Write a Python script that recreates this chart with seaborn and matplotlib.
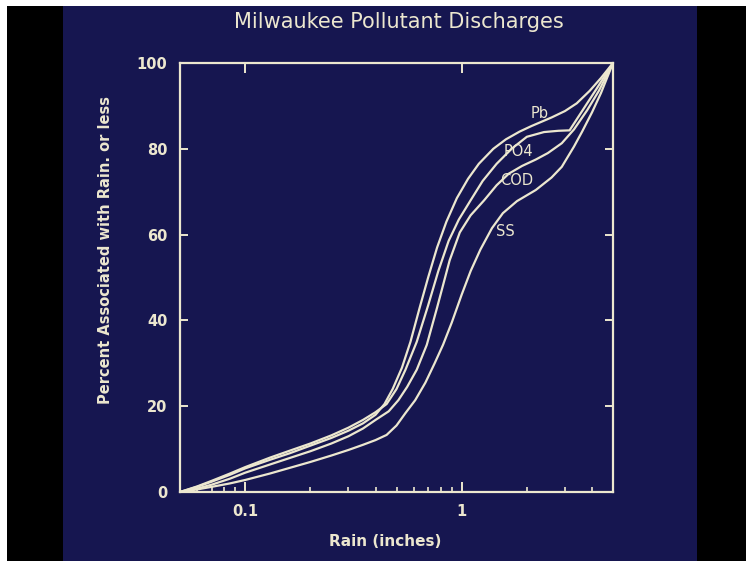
import matplotlib
matplotlib.use("Agg")
import matplotlib.pyplot as plt
from matplotlib.patches import Rectangle
from matplotlib.ticker import FixedLocator, FixedFormatter, NullFormatter
import pandas as pd
import seaborn as sns

# Cumulative share of each pollutant load associated with storms of a given rain depth
pb_rain = [0.05, 0.06, 0.07, 0.085, 0.1, 0.13, 0.16, 0.2, 0.25, 0.3, 0.35, 0.4, 0.44,
           0.48, 0.53, 0.58, 0.64, 0.7, 0.77, 0.85, 0.95, 1.07, 1.2, 1.4, 1.6, 1.85,
           2.1, 2.6, 3.0, 3.4, 3.9, 4.4, 5.0]
pb_pct = [0, 1.2, 2.4, 4.0, 5.5, 7.5, 9.0, 10.8, 12.6, 14.3, 16.0, 18.0, 20.5,
          24.0, 29.0, 35.0, 43.0, 50.0, 57.0, 63.0, 68.5, 73.0, 76.5, 80.0, 82.2, 84.0,
          85.3, 87.3, 88.8, 90.6, 93.5, 96.5, 100]

po4_rain = [0.05, 0.06, 0.07, 0.085, 0.1, 0.13, 0.16, 0.2, 0.25, 0.3, 0.35, 0.4, 0.45,
            0.5, 0.55, 0.62, 0.7, 0.78, 0.87, 0.97, 1.1, 1.25, 1.45, 1.7, 2.0, 2.4,
            2.8, 3.15, 3.6, 4.2, 5.0]
po4_pct = [0, 1.3, 2.6, 4.3, 5.8, 8.0, 9.6, 11.3, 13.2, 15.0, 16.8, 18.6, 20.5,
           24.0, 28.5, 35.0, 43.5, 51.5, 58.5, 63.5, 68.0, 72.5, 76.5, 80.0, 82.8, 83.9,
           84.2, 84.3, 88.8, 94.0, 100]

cod_rain = [0.05, 0.06, 0.07, 0.085, 0.1, 0.13, 0.16, 0.2, 0.25, 0.3, 0.35, 0.4, 0.46,
            0.51, 0.56, 0.62, 0.69, 0.77, 0.88, 0.98, 1.1, 1.27, 1.45, 1.65, 1.9, 2.2,
            2.5, 2.9, 3.3, 3.8, 4.3, 5.0]
cod_pct = [0, 0.8, 1.7, 3.1, 4.5, 6.4, 7.9, 9.5, 11.3, 13.0, 14.8, 16.8, 18.8,
           21.4, 24.5, 28.5, 34.3, 43.0, 54.0, 60.5, 64.5, 68.0, 71.5, 74.2, 76.0, 77.5,
           79.0, 81.3, 84.5, 89.0, 93.5, 100]

ss_rain = [0.05, 0.06, 0.07, 0.085, 0.1, 0.13, 0.16, 0.2, 0.25, 0.3, 0.35, 0.4, 0.45,
           0.5, 0.55, 0.61, 0.68, 0.75, 0.82, 0.9, 1.0, 1.1, 1.22, 1.38, 1.55, 1.8,
           2.2, 2.6, 2.9, 3.3, 3.6, 4.0, 4.4, 5.0]
ss_pct = [0, 0.6, 1.2, 2.0, 2.8, 4.3, 5.6, 7.0, 8.5, 9.8, 11.0, 12.1, 13.3,
          15.5, 18.4, 21.4, 25.5, 30.0, 34.3, 39.5, 46.0, 51.5, 56.5, 61.5, 65.0, 67.8,
          70.4, 73.3, 75.8, 80.5, 84.0, 88.5, 93.0, 100]

pollutants = ["Pb", "PO4", "COD", "SS"]
x_ticks = [0.1, 1]
x_tick_labels = ["0.1", "1"]
x_minor_ticks = [0.06, 0.07, 0.08, 0.09, 0.2, 0.3, 0.4, 0.5, 0.6, 0.7, 0.8, 0.9, 2, 3, 4]
y_ticks = [0, 20, 40, 60, 80, 100]

series = {
    "Pb": (pb_rain, pb_pct),
    "PO4": (po4_rain, po4_pct),
    "COD": (cod_rain, cod_pct),
    "SS": (ss_rain, ss_pct),
}
df = pd.concat(
    [pd.DataFrame({"rain": r, "pct": p, "pollutant": name}) for name, (r, p) in series.items()],
    ignore_index=True,
)

sns.set_theme(style="ticks")
plt.rcParams["font.family"] = ["DejaVu Sans"]

CREAM = "#ece7cf"
NAVY = "#161650"
W, H = 746, 561

fig = plt.figure(figsize=(W / 100, H / 100), dpi=100, facecolor="white")
# slide frame: black mount with the navy slide area
fig.patches.append(Rectangle((7 / W, 0), 1, (H - 6) / H, transform=fig.transFigure,
                             facecolor="black", edgecolor="none", zorder=-3))
fig.patches.append(Rectangle((63 / W, 0), (697 - 63) / W, (H - 6) / H, transform=fig.transFigure,
                             facecolor=NAVY, edgecolor="none", zorder=-2))

ax = fig.add_axes([180 / W, 1 - 492 / H, (613 - 180) / W, (492 - 63) / H])
ax.set_facecolor(NAVY)

sns.lineplot(data=df, x="rain", y="pct", hue="pollutant", hue_order=pollutants,
             palette={p: CREAM for p in pollutants}, estimator=None, sort=False,
             legend=False, linewidth=1.6, ax=ax)
for line in ax.lines:
    line.set_solid_joinstyle("round")

ax.set_xscale("log")
ax.set_xlim(0.05, 5)
ax.set_ylim(0, 100)

ax.xaxis.set_major_locator(FixedLocator(x_ticks))
ax.xaxis.set_major_formatter(FixedFormatter(x_tick_labels))
ax.xaxis.set_minor_locator(FixedLocator(x_minor_ticks))
ax.xaxis.set_minor_formatter(NullFormatter())
ax.yaxis.set_major_locator(FixedLocator(y_ticks))
ax.yaxis.set_minor_locator(FixedLocator([]))

ax.tick_params(axis="x", which="major", direction="in", top=True, bottom=True,
               length=7, width=1.4, color=CREAM, labelcolor=CREAM, labelsize=10.5, pad=9)
ax.tick_params(axis="x", which="minor", direction="in", top=False, bottom=True,
               length=3.8, width=1.2, color=CREAM)
ax.tick_params(axis="y", which="major", direction="in", left=True, right=True,
               length=6, width=1.4, color=CREAM, labelcolor=CREAM, labelsize=10.5, pad=9)
for lbl in ax.get_xticklabels() + ax.get_yticklabels():
    lbl.set_fontweight("bold")

for side in ["left", "right", "top", "bottom"]:
    ax.spines[side].set_visible(True)
    ax.spines[side].set_color(CREAM)
    ax.spines[side].set_linewidth(1.6)

ax.set_xlabel("")
ax.set_ylabel("")

# curve labels
label_pos = {"Pb": (2.30, 88.3), "PO4": (1.83, 79.3), "COD": (1.79, 72.7), "SS": (1.59, 60.8)}
for name, (lx, ly) in label_pos.items():
    ax.text(lx, ly, name, color=CREAM, fontsize=10.5, ha="center", va="center")

fig.text(399 / W, 1 - 22 / H, "Milwaukee Pollutant Discharges", color=CREAM,
         fontsize=15, ha="center", va="center")
fig.text(385 / W, 1 - 541 / H, "Rain (inches)", color=CREAM, fontsize=11,
         fontweight="bold", ha="center", va="center")
fig.text(106 / W, 1 - 250 / H, "Percent Associated with Rain. or less", color=CREAM,
         fontsize=10.5, fontweight="bold", rotation=90, ha="center", va="center")

fig.savefig("out.png", dpi=100, facecolor=fig.get_facecolor())
